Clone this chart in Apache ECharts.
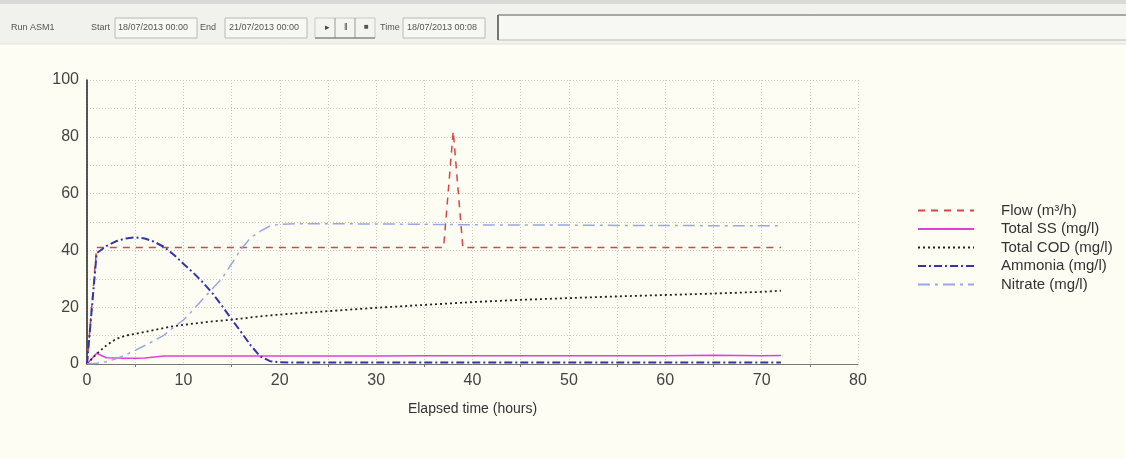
<!DOCTYPE html>
<html>
<head>
<meta charset="utf-8">
<script src="https://cdn.jsdelivr.net/npm/echarts@6/dist/echarts.min.js"></script>
<style>
html,body{margin:0;padding:0;background:#fdfdf3;}
#chart{width:1126px;height:459px;}
</style>
</head>
<body>
<div id="chart"></div>
<script>
// ---- data ----
const hours   = [0,1,2,3,4,5,6,7,8,9,10,11,12,13,14,15,16,17,18,19,20,22,25,30,35,37,38,39,40,45,50,55,60,65,70,72];
const flow    = [0,41,41,41,41,41,41,41,41,41,41,41,41,41,41,41,41,41,41,41,41,41,41,41,41,41,82,41,41,41,41,41,41,41,41,41];
const totalSS = [0,3.8,2.2,2.1,2.0,2.0,2.1,2.5,2.8,2.8,2.8,2.8,2.8,2.8,2.8,2.8,2.8,2.8,2.8,2.8,2.8,2.8,2.8,2.8,2.9,2.9,2.9,2.9,2.9,2.9,2.9,2.9,2.9,3.1,2.9,3.0];
const totalCOD= [0,3.6,6.5,8.8,10.0,10.6,11.3,12.0,12.7,13.3,13.8,14.2,14.6,15.0,15.3,15.6,16.0,16.4,16.8,17.1,17.4,17.9,18.6,19.8,20.8,21.2,21.4,21.6,21.8,22.6,23.2,23.8,24.3,24.8,25.4,25.8];
const ammonia = [0,39,41.5,43.2,44.2,44.6,44.2,43.0,41.2,38.5,35.3,32.2,28.8,25.0,20.5,15.8,11.2,6.5,2.6,1.0,0.6,0.5,0.5,0.5,0.5,0.5,0.5,0.5,0.5,0.5,0.5,0.5,0.5,0.5,0.5,0.5];
const nitrate = [0,0.3,0.8,1.8,3.2,4.8,6.5,8.3,10.2,13.0,15.5,19.0,22.8,26.5,30.0,35.3,40.5,44.5,46.8,48.6,49.2,49.4,49.4,49.3,49.2,49.1,49.1,49.0,49.0,48.9,48.9,48.8,48.8,48.7,48.7,48.7];
const seriesNames = ['Flow (m\u00B3/h)','Total SS (mg/l)','Total COD (mg/l)','Ammonia (mg/l)','Nitrate (mg/l)'];
const xTitle = 'Elapsed time (hours)';
const toolbarTexts = ['Run ASM1','Start','18/07/2013 00:00','End','21/07/2013 00:00','Time','18/07/2013 00:08'];

const pairs = v => hours.map((h,i)=>[h,v[i]]);
const FONT = 'Liberation Sans, Arial, sans-serif';

const chart = echarts.init(document.getElementById('chart'));

function lineSeries(name, data, color, type, width){
  return {name, type:'line', data:pairs(data), symbol:'none', showSymbol:false,
    lineStyle:{color, type, width}, itemStyle:{color}, animation:false, z:3};
}

const tbY = 18, tbH = 20;
const txt = (x, s, extra) => Object.assign({type:'text', left:x, top:tbY+5,
  style:{text:s, fill:'#555', font:'9px '+FONT}}, extra||{});
const box = (x, w) => ({type:'rect', shape:{x:x, y:tbY, width:w, height:tbH},
  style:{fill:'#f7f7f4', stroke:'#b8b8b8', lineWidth:1}});

chart.setOption({
  backgroundColor:'#fdfdf3',
  animation:false,
  textStyle:{fontFamily:FONT},
  grid:{left:87, right:268, top:80, bottom:95, containLabel:false},
  xAxis:{
    type:'value', min:0, max:80, interval:10,
    name:xTitle, nameLocation:'middle', nameGap:38,
    nameTextStyle:{color:'#333', fontSize:14, fontFamily:FONT},
    axisLine:{show:true, onZero:false, lineStyle:{color:'#777', width:1}},
    axisTick:{show:false},
    minorTick:{show:true, splitNumber:2, length:3, lineStyle:{color:'#777'}},
    axisLabel:{color:'#444', fontSize:16, margin:9, fontFamily:FONT},
    splitLine:{show:true, lineStyle:{color:'#c9c9c0', type:[1,2], width:1}},
    minorSplitLine:{show:true, lineStyle:{color:'#c9c9c0', type:[1,2], width:1}}
  },
  yAxis:{
    type:'value', min:0, max:100, interval:20,
    axisLine:{show:true, onZero:false, lineStyle:{color:'#222', width:1.5}},
    axisTick:{show:false},
    minorTick:{show:false, splitNumber:2},
    axisLabel:{color:'#444', fontSize:16, margin:8, fontFamily:FONT},
    splitLine:{show:true, lineStyle:{color:'#c9c9c0', type:[1,2], width:1}},
    minorSplitLine:{show:true, lineStyle:{color:'#c9c9c0', type:[1,2], width:1}}
  },
  legend:{
    orient:'vertical', left:917, top:203, padding:0, itemWidth:56, itemHeight:14, itemGap:3.5,
    data:seriesNames,
    itemStyle:{opacity:0},
    textStyle:{color:'#333', fontSize:15, fontFamily:FONT, padding:[0,0,0,22]},
    selectedMode:false
  },
  series:[
    lineSeries(seriesNames[0], flow, '#d84545', [7,6], 1.5),
    lineSeries(seriesNames[1], totalSS, '#e23fd9', 'solid', 1.5),
    lineSeries(seriesNames[2], totalCOD, '#222222', [2,3], 1.8),
    lineSeries(seriesNames[3], ammonia, '#3535a8', [8,3,2,3], 2),
    lineSeries(seriesNames[4], nitrate, '#9aa6e6', [12,5,3,5], 1.5)
  ],
  graphic:[
    {type:'rect', shape:{x:0,y:0,width:1126,height:44}, style:{fill:'#f1f1ee'}, z:-1},
    {type:'rect', shape:{x:0,y:0,width:1126,height:4}, style:{fill:'#d9d9d9'}},
    {type:'line', shape:{x1:0,y1:44,x2:1126,y2:44}, style:{stroke:'#e4e4dc', lineWidth:1}},
    txt(11, toolbarTexts[0]),
    txt(91, toolbarTexts[1]),
    box(115, 82), txt(118, toolbarTexts[2]),
    txt(200, toolbarTexts[3]),
    box(225, 82), txt(229, toolbarTexts[4]),
    {type:'rect', shape:{x:315,y:tbY,width:60,height:tbH}, style:{fill:'#f4f4f0', stroke:'#c8c8c8'}},
    {type:'line', shape:{x1:335,y1:tbY,x2:335,y2:tbY+tbH}, style:{stroke:'#999'}},
    {type:'line', shape:{x1:355,y1:tbY,x2:355,y2:tbY+tbH}, style:{stroke:'#999'}},
    {type:'line', shape:{x1:315,y1:tbY+tbH,x2:375,y2:tbY+tbH}, style:{stroke:'#666'}},
    {type:'text', left:325, top:tbY+5, style:{text:'\u25B8', fill:'#444', font:'9px '+FONT}},
    {type:'text', left:344, top:tbY+5, style:{text:'\u2016', fill:'#444', font:'9px '+FONT}},
    {type:'text', left:364, top:tbY+5, style:{text:'\u25A0', fill:'#555', font:'8px '+FONT}},
    txt(380, toolbarTexts[5]),
    box(403, 82), txt(407, toolbarTexts[6]),
    {type:'rect', shape:{x:498,y:15,width:640,height:25}, style:{fill:'#f7f7f4', stroke:'#bbb'}},
    {type:'line', shape:{x1:498,y1:15,x2:498,y2:40}, style:{stroke:'#555', lineWidth:1.5}},
    {type:'line', shape:{x1:498,y1:15,x2:1126,y2:15}, style:{stroke:'#777', lineWidth:1}}
  ]
});
</script>
</body>
</html>
